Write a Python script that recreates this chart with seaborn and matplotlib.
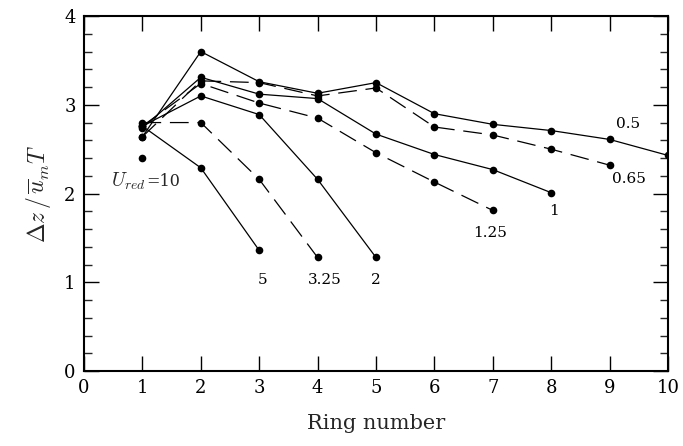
import matplotlib
matplotlib.use("Agg")
import matplotlib.pyplot as plt
import seaborn as sns
import pandas as pd

# Ring spacing per reduced velocity, rings 1..N
rings = [1, 2, 3, 4, 5, 6, 7, 8, 9, 10]
s_05 = [2.64, 3.60, 3.26, 3.13, 3.25, 2.90, 2.78, 2.71, 2.61, 2.43]
s_065 = [2.64, 3.27, 3.25, 3.10, 3.19, 2.75, 2.66, 2.50, 2.32]
s_1 = [2.74, 3.31, 3.12, 3.07, 2.67, 2.44, 2.27, 2.01]
s_125 = [2.76, 3.24, 3.02, 2.85, 2.46, 2.13, 1.81]
s_2 = [2.76, 3.10, 2.89, 2.16, 1.28]
s_325 = [2.80, 2.80, 2.16, 1.28]
s_5 = [2.76, 2.29, 1.36]
s_10 = [2.40]

series = [
    ("0.5", s_05, "solid"),
    ("0.65", s_065, "dashed"),
    ("1", s_1, "solid"),
    ("1.25", s_125, "dashed"),
    ("2", s_2, "solid"),
    ("3.25", s_325, "dashed"),
    ("5", s_5, "solid"),
    ("10", s_10, "solid"),
]

# Label positions (data coordinates) for each curve
label_text = ["0.5", "0.65", "1", "1.25", "5", "3.25", "2"]
label_x = [9.31, 9.33, 8.04, 6.96, 3.05, 4.12, 5.0]
label_y = [2.78, 2.16, 1.80, 1.56, 1.03, 1.03, 1.03]

sns.set_theme(style="ticks")
plt.rcParams["font.family"] = ["DejaVu Serif"]
plt.rcParams["mathtext.fontset"] = "cm"

fig = plt.figure(figsize=(6.83, 4.46), dpi=100)
ax = fig.add_axes([0.123, 0.168, 0.855, 0.796])

dash_map = {"solid": "-", "dashed": (0, (15, 7))}
for name, vals, style in series:
    df = pd.DataFrame({"ring": rings[:len(vals)], "dz": vals})
    sns.lineplot(data=df, x="ring", y="dz", ax=ax, color="black",
                 linewidth=0.9, linestyle=dash_map[style], marker="o",
                 markersize=5.5, markeredgewidth=0, sort=False,
                 estimator=None)

for t, x, y in zip(label_text, label_x, label_y):
    ax.text(x, y, t, fontsize=11, ha="center", va="center", color="black")
ax.text(0.47, 2.14, r"$U_{red}$", fontsize=14, ha="left", va="center")
ax.text(1.07, 2.14, "=10", fontsize=11.5, ha="left", va="center")

ax.set_xlim(0, 10)
ax.set_ylim(0, 4)
ax.set_xticks(range(0, 11))
ax.set_yticks([0, 1, 2, 3, 4])
ax.set_yticks([i * 0.2 for i in range(21)], minor=True)
ax.tick_params(axis="both", which="major", direction="in", length=10.5,
               width=1.0, top=True, right=True, labelsize=13, pad=6,
               color="black", labelcolor="black")
ax.tick_params(axis="y", which="minor", direction="in", length=5.5,
               width=1.0, left=True, right=True)
for sp in ax.spines.values():
    sp.set_linewidth(1.5)
    sp.set_color("black")
    sp.set_visible(True)

ax.set_xlabel("Ring number", fontsize=15, labelpad=12)
ax.set_ylabel(r"$\Delta z\,/\,\overline{u}_m T$", fontsize=17, labelpad=8)

fig.savefig("out.png", dpi=100)
